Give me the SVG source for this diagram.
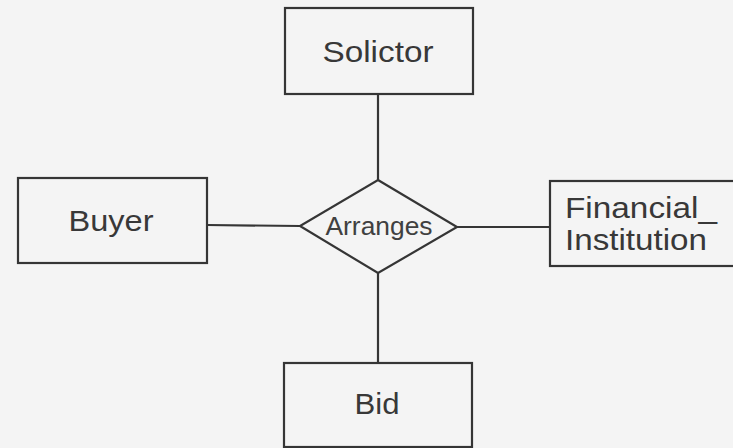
<svg xmlns="http://www.w3.org/2000/svg" width="733" height="448" viewBox="0 0 733 448">
  <style>
    .box { fill: none; stroke: #353535; stroke-width: 2.2; }
    .rel { fill: #f4f4f4; stroke: #353535; stroke-width: 2.2; stroke-linejoin: miter; }
    .link { stroke: #353535; stroke-width: 2.2; fill: none; }
    .label { font-family: "Liberation Sans", Arial, sans-serif; font-size: 30px; fill: #383838; text-anchor: middle; }
    .small { font-family: "Liberation Sans", Arial, sans-serif; font-size: 25px; fill: #404040; text-anchor: middle; }
  </style>
  <rect width="733" height="448" fill="#f4f4f4"/>

  <!-- relationship lines -->
  <g id="connectors">
    <line class="link" x1="378" y1="94" x2="378" y2="180"/>
    <line class="link" x1="378" y1="273" x2="378" y2="363"/>
    <line class="link" x1="207" y1="225" x2="300" y2="226"/>
    <line class="link" x1="457" y1="227" x2="550" y2="227"/>
  </g>

  <g id="solictor">
    <rect class="box" x="285" y="8" width="188" height="86"/>
    <text class="label" x="378" y="62" textLength="111" lengthAdjust="spacingAndGlyphs">Solictor</text>
  </g>

  <g id="buyer">
    <rect class="box" x="18" y="178" width="189" height="85"/>
    <text class="label" x="111" y="231" textLength="85" lengthAdjust="spacingAndGlyphs">Buyer</text>
  </g>

  <g id="arranges">
    <polygon class="rel" points="378,180 457,227 378,273 300,226"/>
    <text class="small" x="379" y="235" textLength="107" lengthAdjust="spacingAndGlyphs">Arranges</text>
  </g>

  <g id="financial_institution">
    <rect class="box" x="550" y="181" width="200" height="85"/>
    <text class="label" x="641" y="218" textLength="152" lengthAdjust="spacingAndGlyphs">Financial_</text>
    <text class="label" x="636" y="250" textLength="142" lengthAdjust="spacingAndGlyphs">Institution</text>
  </g>

  <g id="bid">
    <rect class="box" x="284" y="363" width="188" height="84"/>
    <text class="label" x="377" y="414" textLength="45" lengthAdjust="spacingAndGlyphs">Bid</text>
  </g>
</svg>
